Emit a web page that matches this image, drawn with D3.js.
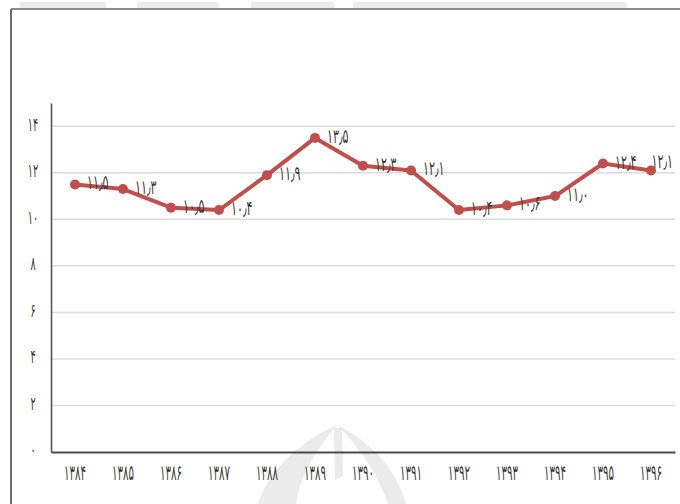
<!DOCTYPE html>
<html>
<head>
<meta charset="utf-8">
<script src="https://cdn.jsdelivr.net/npm/d3@7"></script>
<style>
  html, body { margin: 0; padding: 0; background: #fff; }
  svg { display: block; }
</style>
</head>
<body>
<svg id="chart" width="680" height="504"></svg>
<script>
// Years (Persian calendar) and yearly values
const years = ["۱۳۸۴", "۱۳۸۵", "۱۳۸۶", "۱۳۸۷", "۱۳۸۸", "۱۳۸۹", "۱۳۹۰", "۱۳۹۱", "۱۳۹۲", "۱۳۹۳", "۱۳۹۴", "۱۳۹۵", "۱۳۹۶"];
const values = [11.5, 11.3, 10.5, 10.4, 11.9, 13.5, 12.3, 12.1, 10.4, 10.6, 11.0, 12.4, 12.1];
const yTicks = [0, 2, 4, 6, 8, 10, 12, 14];

const faDigits = "۰۱۲۳۴۵۶۷۸۹";
const toFa = s => String(s).replace(/[0-9]/g, d => faDigits[+d]).replace(".", "٫");
const fmtValue = v => toFa(v.toFixed(1));

// Tall, narrow digits: each text is squeezed horizontally around its anchor
// so that its drawn width is `per` pixels per character.
function squeeze(sel, per) {
  sel.each(function () {
    const t = d3.select(this);
    const natural = this.getComputedTextLength();
    const target = this.textContent.length * per;
    const sx = target / natural;
    const x0 = +t.attr("x") || 0;
    t.attr("x", x0 / sx).attr("transform", `scale(${sx},1)`);
  });
}

const svg = d3.select("#chart");
const fontFam = "'DejaVu Sans', sans-serif";
const textFill = "#3a3a3a";

// Frame around the figure
svg.append("line").attr("x1", 11).attr("x2", 680).attr("y1", 9).attr("y2", 9)
  .attr("stroke", "#8a8a8a").attr("stroke-width", 2);
svg.append("line").attr("x1", 11).attr("x2", 11).attr("y1", 9).attr("y2", 504)
  .attr("stroke", "#6f6f6f").attr("stroke-width", 2);
[[20, 106], [137, 219], [251, 334], [353, 627]].forEach(([a, b]) => {
  svg.append("rect").attr("x", a).attr("y", 2).attr("width", b - a).attr("height", 6)
    .attr("fill", "#ececec");
});

// Faint emblem behind the lower part of the plot
const mark = svg.append("g").attr("fill", "#ebebeb");
mark.append("path").attr("d", "M258,504 C268,472 298,442 337,425 C318,448 300,474 296,504 Z");
mark.append("path").attr("d", "M337,425 C372,442 398,472 406,504 L388,504 C378,474 360,448 337,425 Z");
mark.append("path").attr("d", "M334,428 L342,428 L343,476 L335,480 Z");

const x = d3.scaleBand().domain(years).range([51, 675]).padding(0);
const y = d3.scaleLinear().domain([0, 15]).range([452, 103]);

// Horizontal gridlines
svg.append("g").selectAll("line").data(yTicks.filter(t => t > 0)).join("line")
  .attr("x1", 51).attr("x2", 675)
  .attr("y1", d => y(d)).attr("y2", d => y(d))
  .attr("stroke", "#dcdcdc").attr("stroke-width", 1.5);

// Y axis
const yAxis = svg.append("g").attr("transform", "translate(51,0)")
  .call(d3.axisLeft(y).tickValues(yTicks).tickSize(0).tickFormat(toFa));
yAxis.select(".domain").attr("stroke", "#555").attr("stroke-width", 1.6);
yAxis.selectAll("text").attr("font-family", fontFam).attr("font-size", 19)
  .attr("fill", textFill).attr("text-anchor", "middle").attr("x", -18).attr("dy", "0.2em")
  .call(squeeze, 5.2);

// X axis
const xAxis = svg.append("g").attr("transform", "translate(0,452)")
  .call(d3.axisBottom(x).tickSize(0).tickPadding(13));
xAxis.select(".domain").attr("stroke", "#4a4a4a").attr("stroke-width", 2);
xAxis.selectAll("text").attr("font-family", fontFam).attr("font-size", 21)
  .attr("fill", textFill).call(squeeze, 5.5);

// Series line and markers
const pts = years.map((yr, i) => ({ yr, v: values[i] }));
const cx = d => x(d.yr) + x.bandwidth() / 2;
svg.append("path").datum(pts)
  .attr("d", d3.line().x(cx).y(d => y(d.v)))
  .attr("fill", "none").attr("stroke", "#be4f4c").attr("stroke-width", 4)
  .attr("stroke-linejoin", "round");
svg.append("g").selectAll("circle").data(pts).join("circle")
  .attr("cx", cx).attr("cy", d => y(d.v)).attr("r", 5)
  .attr("fill", "#be4f4c");

// Value labels to the right of each marker, kept inside the plot's right edge
const perChar = 5.4, labelW = 4 * perChar, rightEdge = 673;
const fits = d => cx(d) + 12 + labelW <= rightEdge;
svg.append("g").selectAll("g").data(pts).join("g")
  .attr("transform", d => fits(d)
    ? `translate(${cx(d) + 12},${y(d.v) - 3})`
    : `translate(${rightEdge - labelW},${y(d.v) - 10})`)
  .append("text")
  .attr("dy", "0.4em")
  .attr("font-family", fontFam).attr("font-size", 20).attr("fill", textFill)
  .text(d => fmtValue(d.v))
  .call(squeeze, perChar);
</script>
</body>
</html>
